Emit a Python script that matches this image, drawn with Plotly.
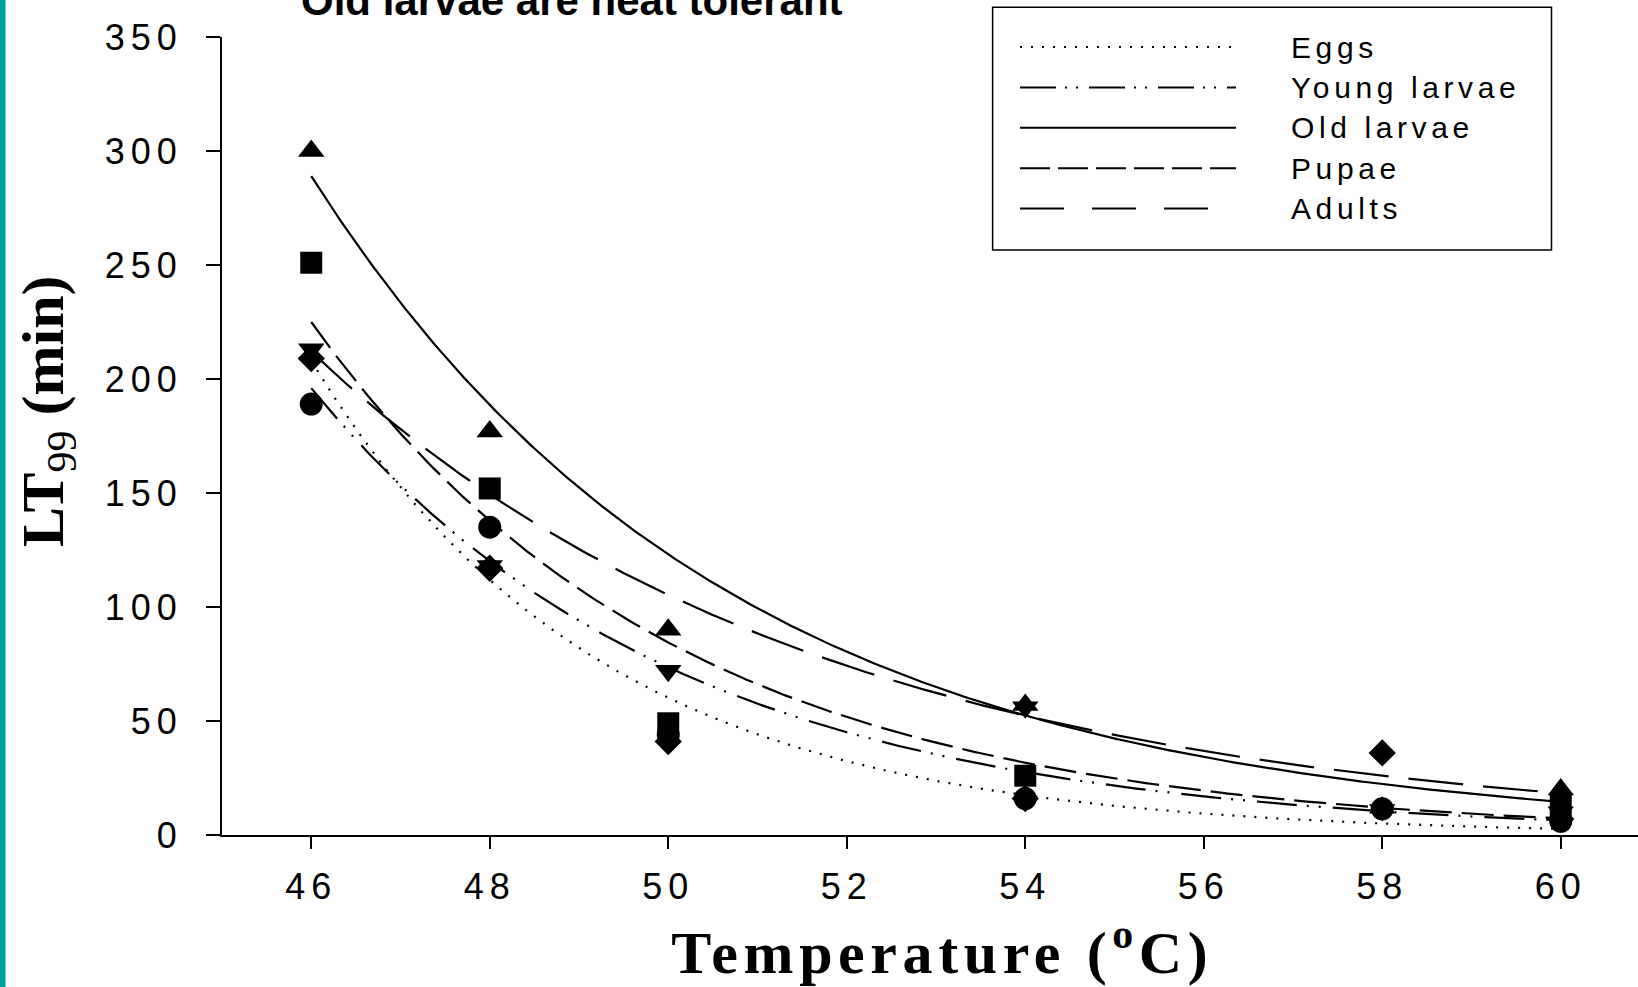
import json
import numpy as np
import plotly.graph_objects as go

# Exposure temperatures (°C)
temps = [46, 48, 50, 54, 58, 60]

# Observed LT99 values (min), one list per marker symbol
lt99_triangle_up = [300, 177, 90, 57, 12, 20]
lt99_square = [251, 152, 49, 26, None, 13]
lt99_triangle_down = [213, 118, 72, 56, 11, 10]
lt99_diamond = [209, 117, 41, 16, 36, 7]
lt99_circle = [189, 135, 44, 16, 11.5, 6]

# Life stages with fitted decay curves: LT99 = a * exp(-k * (T - 46))
stages = ["Eggs", "Young larvae", "Old larvae", "Pupae", "Adults"]
fit_a = [208, 196, 289, 225, 212]
fit_k = [0.310, 0.245, 0.2134, 0.245, 0.175]

x_ticks = [46, 48, 50, 52, 54, 56, 58, 60]
y_ticks = [0, 50, 100, 150, 200, 250, 300, 350]

# ---- styling -------------------------------------------------------------
W, H = 1638, 987
ML, MT, MB = 222, 37, 152
PW, PH = W - ML, H - MT - MB
X0 = 45.0
XSCALE = 89.25  # px per degree
x_range = [X0, X0 + PW / XSCALE]

curve_dash = ["2px,9px", "40px,10px,2px,10px,2px,12px", "solid", "32px,10px", "55px,20px"]
legend_dash = ["2px,9px", "36px,9px,2px,9px,2px,11px", "solid", "30px,8px", "44px,28px"]

SANS = "Liberation Sans, Arial, sans-serif"
SERIF = "Liberation Serif, Times New Roman, serif"


def fx(px):
    return (px - ML) / PW


def fy(py):
    return (MT + PH - py) / PH


fig = go.Figure()

# fitted curves
t_grid = np.linspace(46, 60, 400)
for name, a, k, dash in zip(stages, fit_a, fit_k, curve_dash):
    fig.add_trace(go.Scatter(
        x=t_grid, y=a * np.exp(-k * (t_grid - 46)), mode="lines", name=name,
        line=dict(color="black", width=2.2, dash=dash), showlegend=False,
        hoverinfo="skip"))

# observed points
marker_sets = [
    ("triangle-up", lt99_triangle_up, 23),
    ("square", lt99_square, 22),
    ("triangle-down", lt99_triangle_down, 23),
    ("diamond", lt99_diamond, 21),
    ("circle", lt99_circle, 23),
]
for symbol, values, size in marker_sets:
    fig.add_trace(go.Scatter(
        x=temps, y=values, mode="markers", showlegend=False,
        marker=dict(symbol=symbol, size=size, color="black", line=dict(width=0))))

shapes = []
annotations = []
spacing = []  # letter spacing per annotation

# teal edge strip
shapes.append(dict(type="rect", xref="paper", yref="paper", x0=fx(0), x1=fx(5.5),
                   y0=fy(H), y1=fy(0), fillcolor="#00a09b", line=dict(width=0), layer="above"))

# legend box
shapes.append(dict(type="rect", xref="paper", yref="paper", x0=fx(992.6), x1=fx(1551.5),
                   y0=fy(250), y1=fy(7.3), line=dict(color="black", width=1.5)))
row_y = [47 + 40.4 * i for i in range(len(stages))]
for name, dash, ry in zip(stages, legend_dash, row_y):
    shapes.append(dict(type="line", xref="paper", yref="paper", x0=fx(1020), x1=fx(1236),
                       y0=fy(ry), y1=fy(ry), line=dict(color="black", width=2, dash=dash)))
    annotations.append(dict(text=name, xref="paper", yref="paper", x=fx(1289), y=fy(ry),
                            xanchor="left", yanchor="middle", align="left", showarrow=False,
                            font=dict(family=SANS, size=30, color="black")))
    spacing.append("4.6px")

# title (partly above the page edge)
annotations.append(dict(text="<b>Old larvae are heat tolerant</b>", xref="paper", yref="paper",
                        x=fx(572), y=fy(26), xanchor="center", yanchor="bottom", showarrow=False,
                        font=dict(family=SANS, size=42, color="black")))
spacing.append("0px")

# axis titles
annotations.append(dict(text="<b>Temperature (<sup>o</sup>C)</b>", xref="paper", yref="paper",
                        x=fx(942), y=fy(988), xanchor="center", yanchor="bottom", showarrow=False,
                        font=dict(family=SERIF, size=60, color="black")))
spacing.append("5.6px")
annotations.append(dict(text="<b>LT</b><sub>99</sub><b> (min)</b>", xref="paper", yref="paper",
                        x=fx(47), y=fy(411), xanchor="center", yanchor="middle", showarrow=False,
                        textangle=-90, font=dict(family=SERIF, size=60, color="black")))
spacing.append("0px")

axis_common = dict(showline=True, linecolor="black", linewidth=2, ticks="outside",
                   tickcolor="black", tickwidth=2, showgrid=False, zeroline=False,
                   tickfont=dict(family=SANS, size=36, color="black"))

fig.update_layout(
    width=W, height=H,
    margin=dict(l=ML, r=0, t=MT, b=MB, pad=0),
    paper_bgcolor="white", plot_bgcolor="white",
    xaxis=dict(range=x_range, tickvals=x_ticks, ticktext=[str(v) for v in x_ticks],
               ticklen=12, ticklabelstandoff=7, **axis_common),
    yaxis=dict(range=[0, 350], tickvals=y_ticks, ticktext=[str(v) for v in y_ticks],
               ticklen=14, ticklabelstandoff=16, **axis_common),
    shapes=shapes, annotations=annotations, showlegend=False,
)

post = """
var gd = document.getElementById('{plot_id}');
var annSpacing = %s;
function applySpacing() {
  gd.querySelectorAll('.xtick text, .ytick text').forEach(function (t) {
    t.style.letterSpacing = '6px';
  });
  gd.querySelectorAll('g.annotation').forEach(function (g) {
    var i = +g.getAttribute('data-index');
    var t = g.querySelector('text.annotation-text');
    if (t && annSpacing[i]) { t.style.letterSpacing = annSpacing[i]; }
  });
}
applySpacing();
""" % json.dumps(spacing)

fig.write_html("out.html", post_script=post, config={"displayModeBar": False})
